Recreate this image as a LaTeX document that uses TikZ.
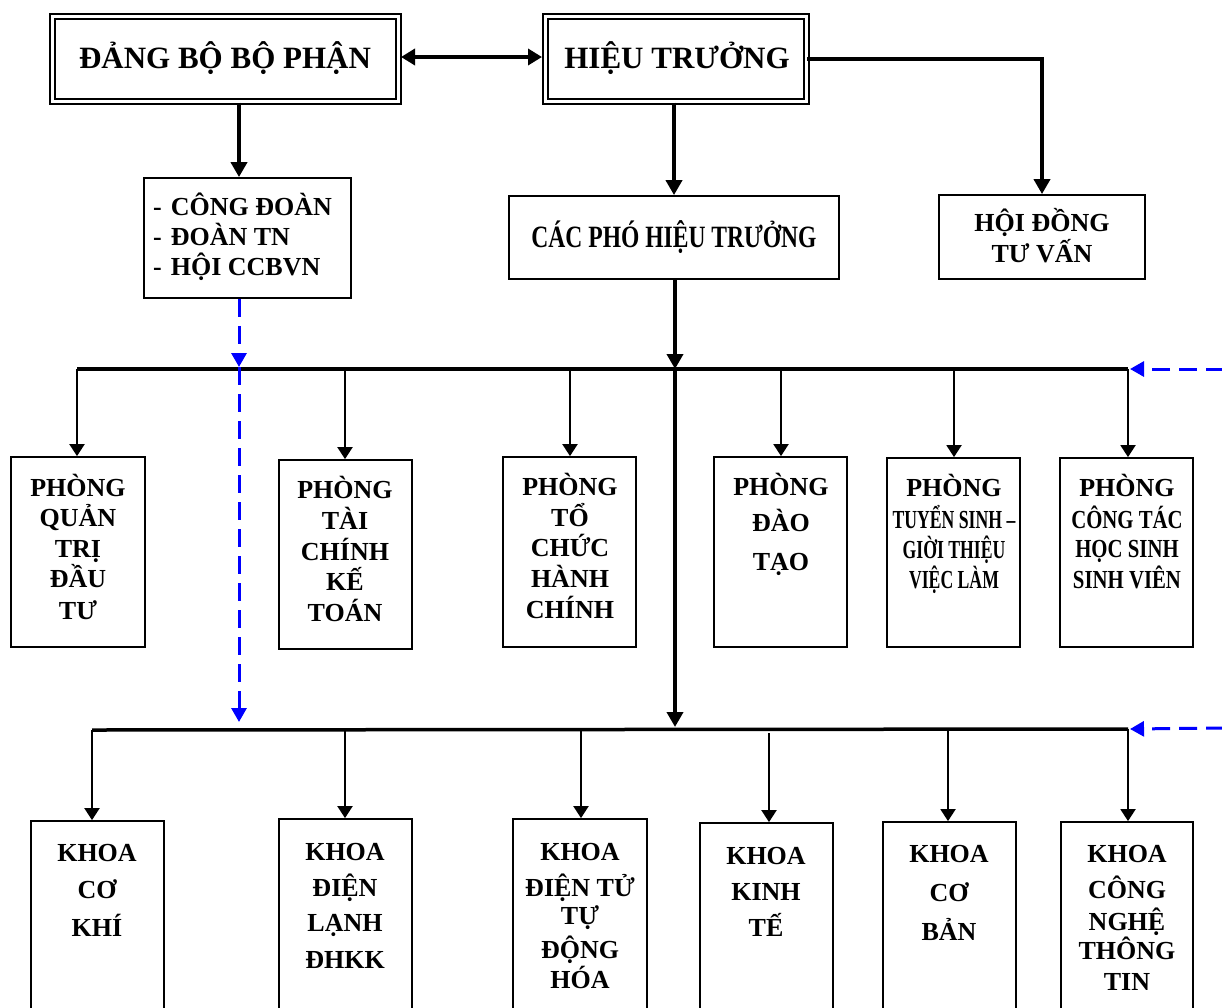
\documentclass[tikz,border=0pt]{standalone}
\usepackage{fontspec}
\setmainfont{Liberation Serif}
\newfontfamily\narrowA[FakeStretch=0.68]{Liberation Serif}
\newfontfamily\narrowB[FakeStretch=0.80]{Liberation Serif}
\newfontfamily\narrowC[FakeStretch=0.76]{Liberation Serif}
\usetikzlibrary{arrows.meta}
\begin{document}
\begin{tikzpicture}[x=1pt,y=-1pt,
  bx/.style={draw, line width=1.8pt, inner sep=0pt},
  dbx/.style={draw, line width=2pt, double, double distance=3pt, inner sep=0pt},
  ln/.style={inner sep=0pt, text height=17.2pt, text depth=0pt, font=\bfseries\fontsize{26}{26}\selectfont},
  big/.style={inner sep=0pt, text height=20.5pt, text depth=0pt, font=\bfseries\fontsize{31}{31}\selectfont},
  thickarr/.style={line width=4.5pt, -{Triangle[width=16pt,length=15pt]}},
  bus/.style={line width=3.5pt},
  drop/.style={line width=2pt, -{Triangle[width=15pt,length=12pt]}},
  bluearr/.style={draw=blue, line width=3pt, dash pattern=on 18pt off 9pt, -{Triangle[width=15pt,length=14pt]}, blue}
]
\useasboundingbox (0,0) rectangle (1222,1007);

% ---- top level
\node[dbx, minimum width=346, minimum height=85] (dang) at (225,59) {};
\node[big] (dangt) at (225,58) {ĐẢNG BỘ BỘ PHẬN};
\node[dbx, minimum width=261, minimum height=85] (hieu) at (675.5,59) {};
\node[big] (hieut) at (677,58) {HIỆU TRƯỞNG};
\draw[line width=4.5pt, {Triangle[width=16pt,length=14pt]}-{Triangle[width=16pt,length=14pt]}, shorten <=2pt, shorten >=2pt]
  ([yshift=2pt]dang.east) -- ([yshift=2pt]hieu.west);

\node[bx, minimum width=207, minimum height=120] (cd) at (247.5,238) {};
\node[ln, anchor=west] (cd1) at (153,207) {-\hspace{9pt}CÔNG ĐOÀN};
\node[ln, anchor=west] (cd2) at (153,237) {-\hspace{9pt}ĐOÀN TN};
\node[ln, anchor=west] (cd3) at (153,267) {-\hspace{9pt}HỘI CCBVN};

\node[bx, minimum width=330, minimum height=83] (cph) at (674,237.5) {};
\node[big, font=\narrowC\bfseries\fontsize{31}{31}\selectfont] (cpht) at (674,237) {CÁC PHÓ HIỆU TRƯỞNG};

\node[bx, minimum width=206, minimum height=84] (hd) at (1042,237) {};
\node[ln] (hd1) at (1042,223) {HỘI ĐỒNG};
\node[ln] (hd2) at (1042,254) {TƯ VẤN};

\coordinate (bv1) at (239,367);
\coordinate (bv2) at (239,722);
\draw[thickarr] (dang.south -| bv1) -- (cd.north -| bv1);
\draw[thickarr] (hieu.south -| cph.north) -- (cph.north);
\draw[thickarr] (hieu.east) -| (hd.north);

% ---- buses
\coordinate (b1L) at (77,369);
\coordinate (b1R) at (1128,369);
\coordinate (b2L) at (92,730);
\coordinate (b2R) at (1128,729);
\coordinate (m1) at (675,369);
\coordinate (m2) at (675,727);
\draw[bus] (b1L) -- (b1R);
\draw[bus] (b2L) -- (b2R);
\draw[thickarr] (cph.south -| m1) -- (m1);
\draw[thickarr] (m1) -- (m2);

% blue dashed
\draw[bluearr] (cd.south -| bv1) -- (bv1);
\draw[bluearr] (bv1) -- (bv2);
\coordinate (e1) at (1224,369);
\coordinate (e2) at (1224,728);
\draw[bluearr] (e1) -- ([xshift=2pt]b1R);
\draw[bluearr] (e2) -- ([xshift=2pt]b2R);

% ---- row 1 (phong)
\node[bx, minimum width=134, minimum height=190] (p1) at (78,552) {};
\node[bx, minimum width=133, minimum height=189] (p2) at (345.5,554.5) {};
\node[bx, minimum width=133, minimum height=190] (p3) at (569.5,552) {};
\node[bx, minimum width=133, minimum height=190] (p4) at (780.5,552) {};
\node[bx, minimum width=133, minimum height=189] (p5) at (953.5,552.5) {};
\node[bx, minimum width=133, minimum height=189] (p6) at (1126.5,552.5) {};

\coordinate (d11) at (77,369);
\coordinate (d12) at (345,369);
\coordinate (d13) at (570,369);
\coordinate (d14) at (781,369);
\coordinate (d15) at (954,369);
\coordinate (d16) at (1128,369);
\foreach \i in {1,...,6} \draw[drop] (d1\i) -- (d1\i |- p\i.north);

\foreach \s/\y [count=\i] in {PHÒNG/488,QUẢN/518,TRỊ/549,ĐẦU/579,TƯ/611}
  \node[ln] (p1-\i) at (78,\y) {\s};
\foreach \s/\y [count=\i] in {PHÒNG/490,TÀI/521,CHÍNH/552,KẾ/582,TOÁN/613}
  \node[ln] (p2-\i) at (345,\y) {\s};
\foreach \s/\y [count=\i] in {PHÒNG/487,TỔ/518,CHỨC/548,HÀNH/579,CHÍNH/610}
  \node[ln] (p3-\i) at (570,\y) {\s};
\foreach \s/\y [count=\i] in {PHÒNG/487,ĐÀO/523,TẠO/562}
  \node[ln] (p4-\i) at (781,\y) {\s};
\node[ln] (p5-1) at (954,488) {PHÒNG};
\foreach \s/\y [count=\i from 2] in {TUYỂN SINH –/520,GIỜI THIỆU/550,VIỆC LÀM/580}
  \node[ln, font=\narrowA\bfseries\fontsize{26}{26}\selectfont] (p5-\i) at (954,\y) {\s};
\node[ln] (p6-1) at (1127,488) {PHÒNG};
\foreach \s/\y [count=\i from 2] in {CÔNG TÁC/520,HỌC SINH/549,SINH VIÊN/580}
  \node[ln, font=\narrowB\bfseries\fontsize{26}{26}\selectfont] (p6-\i) at (1127,\y) {\s};

% ---- row 2 (khoa)
\node[bx, minimum width=133, minimum height=209] (k1) at (97.5,925.5) {};
\node[bx, minimum width=133, minimum height=211] (k2) at (345.5,924.5) {};
\node[bx, minimum width=134, minimum height=211] (k3) at (580,924.5) {};
\node[bx, minimum width=133, minimum height=207] (k4) at (766.5,926.5) {};
\node[bx, minimum width=133, minimum height=208] (k5) at (949.5,926) {};
\node[bx, minimum width=132, minimum height=208] (k6) at (1127,926) {};

\coordinate (d21) at (92,730);
\coordinate (d22) at (345,730);
\coordinate (d23) at (581,730);
\coordinate (d24) at (769,733);
\coordinate (d25) at (948,729);
\coordinate (d26) at (1128,729);
\foreach \i in {1,...,6} \draw[drop] (d2\i) -- (d2\i |- k\i.north);

\foreach \s/\y [count=\i] in {KHOA/853,CƠ/890,KHÍ/928}
  \node[ln] (k1-\i) at (97,\y) {\s};
\foreach \s/\y [count=\i] in {KHOA/852,ĐIỆN/888,LẠNH/923,ĐHKK/960}
  \node[ln] (k2-\i) at (345,\y) {\s};
\foreach \s/\y [count=\i] in {KHOA/852,ĐIỆN TỬ/888,TỰ/916,ĐỘNG/950,HÓA/980}
  \node[ln] (k3-\i) at (580,\y) {\s};
\foreach \s/\y [count=\i] in {KHOA/856,KINH/892,TẾ/928}
  \node[ln] (k4-\i) at (766,\y) {\s};
\foreach \s/\y [count=\i] in {KHOA/854,CƠ/893,BẢN/932}
  \node[ln] (k5-\i) at (949,\y) {\s};
\foreach \s/\y [count=\i] in {KHOA/854,CÔNG/890,NGHỆ/922,THÔNG/951,TIN/982}
  \node[ln] (k6-\i) at (1127,\y) {\s};
\end{tikzpicture}
\end{document}
